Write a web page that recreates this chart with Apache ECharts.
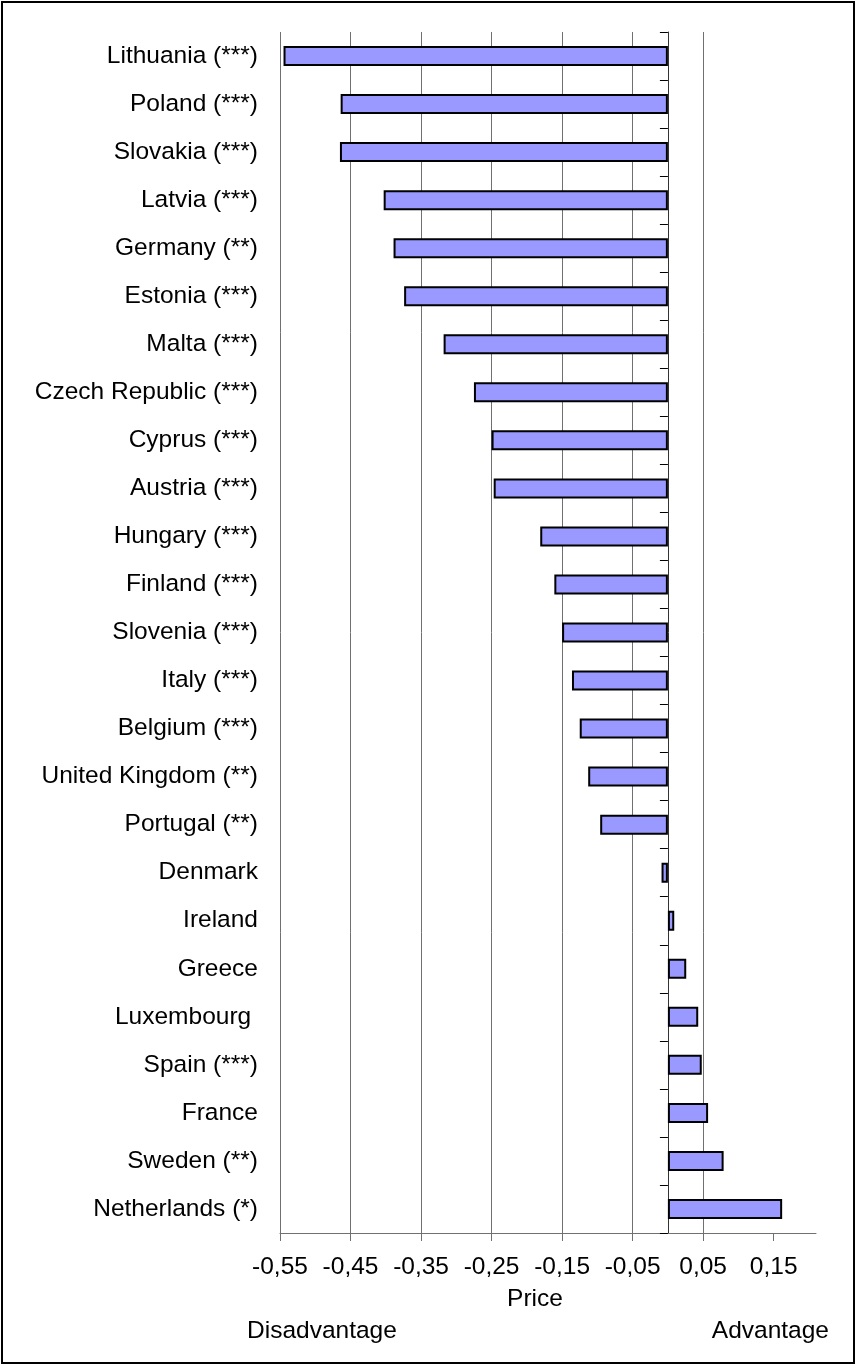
<!DOCTYPE html>
<html>
<head>
<meta charset="utf-8">
<script src="https://cdn.jsdelivr.net/npm/echarts@6/dist/echarts.min.js"></script>
<style>
html,body{margin:0;padding:0;background:#fff;}
#chart{width:856px;height:1365px;}
</style>
</head>
<body>
<div id="chart"></div>
<script>
const categories = [
  "Lithuania (***)", "Poland (***)", "Slovakia (***)", "Latvia (***)", "Germany (**)",
  "Estonia (***)", "Malta (***)", "Czech Republic (***)", "Cyprus (***)", "Austria (***)",
  "Hungary (***)", "Finland (***)", "Slovenia (***)", "Italy (***)", "Belgium (***)",
  "United Kingdom (**)", "Portugal (**)", "Denmark", "Ireland", "Greece",
  "Luxembourg ", "Spain (***)", "France", "Sweden (**)", "Netherlands (*)"
];
const priceValues = [
  -0.545, -0.464, -0.465, -0.403, -0.389,
  -0.374, -0.318, -0.275, -0.250, -0.247,
  -0.181, -0.161, -0.150, -0.136, -0.125,
  -0.113, -0.096, -0.009, 0.009, 0.026,
  0.043, 0.048, 0.057, 0.079, 0.162
];
const xTickValues = [-0.55, -0.45, -0.35, -0.25, -0.15, -0.05, 0.05, 0.15];
const axisTitle = "Price";
const leftNote = "Disadvantage";
const rightNote = "Advantage";

const FONT = "'Liberation Sans', Arial, sans-serif";
const FS = 24.5;
const chart = echarts.init(document.getElementById('chart'), null, {renderer: 'canvas'});

function fmt(v) {
  return v.toFixed(2).replace('.', ',');
}

chart.setOption({
  backgroundColor: '#ffffff',
  animation: false,
  grid: {left: 280, right: 40, top: 32, bottom: 132, containLabel: false, outerBoundsMode: 'none'},
  xAxis: {
    type: 'value',
    min: -0.55,
    max: 0.21,
    interval: 0.1,
    axisLine: {show: true, onZero: false, lineStyle: {color: '#707070', width: 1}},
    axisTick: {show: true, length: 8, lineStyle: {color: '#707070'}, customValues: xTickValues},
    axisLabel: {
      customValues: xTickValues,
      margin: 22,
      fontSize: FS,
      fontFamily: FONT,
      color: '#000',
      formatter: function (v) { return fmt(v); }
    },
    splitLine: {show: true, showMinLine: true, showMaxLine: false, lineStyle: {color: '#707070', width: 1}}
  },
  yAxis: [{
    type: 'category',
    inverse: true,
    position: 'left',
    data: categories,
    axisLine: {show: false, onZero: false},
    axisTick: {show: false},
    axisLabel: {margin: 22, fontSize: FS, fontFamily: FONT, color: '#000'},
    splitLine: {show: false}
  }, {
    type: 'category',
    inverse: true,
    position: 'left',
    data: categories,
    axisLine: {show: true, onZero: true, lineStyle: {color: '#333', width: 1}},
    axisTick: {show: true, length: 8, lineStyle: {color: '#000'}},
    axisLabel: {show: false},
    splitLine: {show: false}
  }],
  series: [{
    type: 'bar',
    yAxisIndex: 0,
    data: priceValues,
    barWidth: 20,
    itemStyle: {color: '#9999FF', borderColor: '#000', borderWidth: 2}
  }],
  graphic: [
    {type: 'rect', shape: {x: 2, y: 2, width: 852, height: 1361}, style: {fill: null, stroke: '#000', lineWidth: 2}, silent: true},
    {type: 'text', x: 535, y: 1299, style: {text: axisTitle, font: FS + 'px ' + FONT, fill: '#000', textAlign: 'center', textVerticalAlign: 'middle'}},
    {type: 'text', x: 247, y: 1331, style: {text: leftNote, font: FS + 'px ' + FONT, fill: '#000', textAlign: 'left', textVerticalAlign: 'middle'}},
    {type: 'text', x: 829, y: 1331, style: {text: rightNote, font: FS + 'px ' + FONT, fill: '#000', textAlign: 'right', textVerticalAlign: 'middle'}}
  ]
});
</script>
</body>
</html>
